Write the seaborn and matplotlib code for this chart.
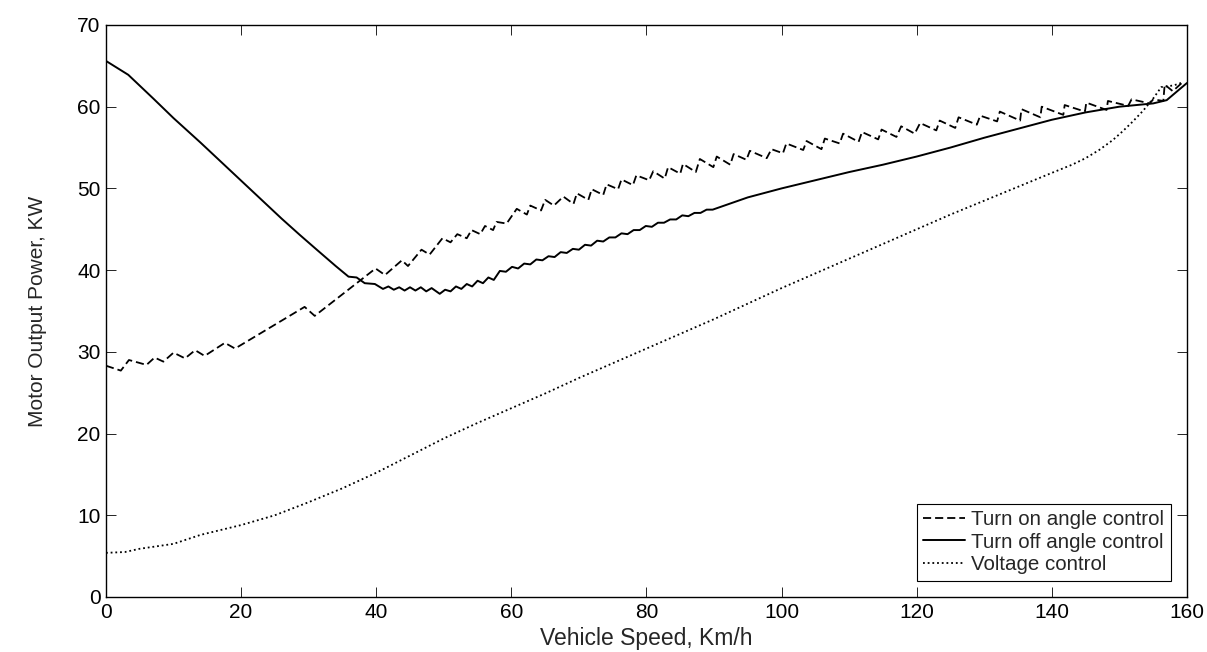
import matplotlib
matplotlib.use("Agg")
import matplotlib.pyplot as plt
import seaborn as sns
import pandas as pd

# speed (km/h) and motor output power (kW)
turn_on_speed = [
    0, 2.2, 3.4, 6.0, 7.2, 8.5, 10.0, 11.7, 13.2, 14.6, 17.6, 19.1, 29.4, 30.9,
    39.9, 41.3, 43.8, 44.7, 46.7, 47.9, 49.8, 51.0, 52.0, 53.4, 54.1, 55.4, 56.1,
    57.3, 57.8, 59.3, 60.8, 62.3, 62.8, 64.4, 65.0, 66.3, 67.7, 69.2, 69.7, 71.4,
    71.9, 73.6, 74.1, 75.8, 76.3, 78.0, 78.5, 80.4, 81.0, 82.7, 83.2, 85.0, 85.4,
    87.3, 87.9, 89.9, 90.4, 92.4, 92.9, 94.8, 95.3, 97.8, 98.5, 100.2, 100.7,
    103.2, 103.7, 105.9, 106.4, 108.6, 109.1, 111.4, 111.9, 114.3, 114.8, 117.0,
    117.7, 119.7, 120.5, 122.9, 123.4, 125.7, 126.2, 128.9, 129.4, 131.9, 132.3,
    135.3, 135.5, 138.3, 138.5, 141.7, 141.9, 144.9, 145.1, 148.1, 148.3, 151.3,
    151.8, 154.5, 155.0, 156.5, 156.7, 157.9, 159.5,
]
turn_on_power = [
    28.3, 27.7, 29.0, 28.4, 29.3, 28.8, 29.9, 29.2, 30.2, 29.5, 31.1, 30.4, 35.5, 34.4,
    40.2, 39.4, 41.2, 40.5, 42.5, 41.9, 43.9, 43.4, 44.4, 43.9, 44.9, 44.4, 45.4,
    44.9, 45.9, 45.7, 47.5, 46.8, 47.9, 47.3, 48.6, 47.9, 49.0, 48.1, 49.4, 48.6,
    49.9, 49.2, 50.5, 49.9, 51.1, 50.4, 51.6, 51.0, 52.1, 51.2, 52.6, 51.8, 53.0,
    52.0, 53.6, 52.6, 53.9, 52.9, 54.2, 53.5, 54.6, 53.7, 54.8, 54.3, 55.5,
    54.7, 55.8, 54.8, 56.1, 55.5, 56.7, 55.7, 56.9, 56.0, 57.2, 56.3,
    57.6, 56.7, 58.0, 57.1, 58.3, 57.4, 58.7, 57.8, 58.9, 58.2, 59.4,
    58.3, 59.7, 58.7, 60.0, 59.0, 60.2, 59.4, 60.5, 59.6, 60.7, 60.1,
    60.9, 60.4, 60.9, 60.7, 62.7, 61.9, 63.1,
]

turn_off_speed = [
    0, 3.3, 7, 10, 14, 18, 22, 26, 28.7, 31.2, 34, 35.9, 37.1, 38.3, 39.8,
    41.0, 41.8, 42.6, 43.4, 44.2, 45.0, 45.8, 46.6, 47.4, 48.2, 49.4, 50.2, 51.0,
    51.8, 52.6, 53.4, 54.2, 55.0, 55.8, 56.6, 57.4,
    58.3, 59.2, 60.1, 61.0, 61.9, 62.8, 63.7, 64.6, 65.5, 66.4, 67.3, 68.2,
    69.1, 70.0, 70.9, 71.8, 72.7, 73.6, 74.5, 75.4, 76.3, 77.2, 78.1, 79.0,
    79.9, 80.8, 81.7, 82.6, 83.5, 84.4, 85.3, 86.2, 87.1, 88.0, 88.9, 89.8,
    95, 100, 105, 110, 115, 120, 125, 130, 135, 140, 145, 150, 155, 157, 160,
]
turn_off_power = [
    65.6, 63.9, 61.0, 58.6, 55.6, 52.5, 49.4, 46.3, 44.3, 42.5, 40.5, 39.2, 39.1, 38.4, 38.3,
    37.7, 38.0, 37.6, 37.9, 37.5, 37.9, 37.5, 37.9, 37.4, 37.8, 37.1, 37.6, 37.4,
    38.0, 37.7, 38.3, 38.0, 38.7, 38.4, 39.1, 38.8,
    39.9, 39.8, 40.4, 40.2, 40.8, 40.7, 41.3, 41.2, 41.7, 41.6, 42.2, 42.1,
    42.6, 42.5, 43.1, 43.0, 43.6, 43.5, 44.0, 44.0, 44.5, 44.4, 44.9, 44.9,
    45.4, 45.3, 45.8, 45.8, 46.2, 46.2, 46.7, 46.6, 47.0, 47.0, 47.4, 47.4,
    48.9, 50.0, 51.0, 52.0, 52.9, 53.9, 55.0, 56.2, 57.3, 58.4, 59.3, 60.0, 60.4, 60.8, 62.9,
]

voltage_speed = [
    0, 2.8, 5, 10, 14, 20, 25, 30, 35, 40, 45, 50, 55, 60, 65, 70, 75, 80, 85,
    90, 95, 100, 105, 110, 115, 120, 125, 130, 135, 140, 143, 145, 147, 149,
    150.5, 152, 153.5, 155, 156.2, 158, 159.5,
]
voltage_power = [
    5.4, 5.5, 5.9, 6.5, 7.6, 8.8, 10.0, 11.6, 13.3, 15.2, 17.3, 19.4, 21.3, 23.1, 24.9, 26.8, 28.6, 30.4, 32.2,
    34.0, 35.9, 37.8, 39.6, 41.4, 43.2, 45.0, 46.8, 48.5, 50.2, 51.9, 52.9, 53.7, 54.7, 55.9,
    57.0, 58.2, 59.5, 61.0, 62.4, 62.6, 63.0,
]

labels = ["Turn on angle control", "Turn off angle control", "Voltage control"]

sns.set_style("ticks")
plt.rcParams["font.family"] = ["Liberation Sans", "DejaVu Sans"]
plt.rcParams["font.size"] = 15

fig, ax = plt.subplots(figsize=(12.07, 6.52), dpi=100)
fig.subplots_adjust(left=0.0878, right=0.9834, bottom=0.0844, top=0.9617)

df_on = pd.DataFrame({"speed": turn_on_speed, "power": turn_on_power})
df_off = pd.DataFrame({"speed": turn_off_speed, "power": turn_off_power})
df_v = pd.DataFrame({"speed": voltage_speed, "power": voltage_power})

sns.lineplot(data=df_on, x="speed", y="power", ax=ax, color="black", lw=1.3,
             linestyle=(0, (4.5, 2.2)), label=labels[0], estimator=None, sort=False)
sns.lineplot(data=df_off, x="speed", y="power", ax=ax, color="black", lw=1.4,
             linestyle="-", label=labels[1], estimator=None, sort=False)
sns.lineplot(data=df_v, x="speed", y="power", ax=ax, color="black", lw=1.3,
             linestyle=(0, (1, 1.6)), label=labels[2], estimator=None, sort=False)

ax.set_xlim(0, 160)
ax.set_ylim(0, 70)
ax.set_xticks(range(0, 161, 20))
ax.set_yticks(range(0, 71, 10))

# matlab style box with inward ticks on every side
for side in ["top", "right", "bottom", "left"]:
    ax.spines[side].set_visible(True)
    ax.spines[side].set_color("black")
    ax.spines[side].set_linewidth(1.0)
ax.tick_params(direction="in", length=7, width=0.6, top=True, right=True,
               labelsize=15, pad=4, colors="black")

ax.set_xlabel("Vehicle Speed, Km/h", fontsize=16.5)
ax.set_ylabel("Motor Output Power, KW", fontsize=15)
ax.xaxis.set_label_coords(0.5, -0.053)
ax.yaxis.set_label_coords(-0.0546, 0.5)

leg = ax.legend(loc="lower right", fancybox=False, edgecolor="black", framealpha=1,
                fontsize=14.8, handlelength=2.05, handletextpad=0.3, borderpad=0.3,
                labelspacing=0.18, borderaxespad=0.8)
leg.get_frame().set_linewidth(0.8)

fig.savefig("out.png", dpi=100)
